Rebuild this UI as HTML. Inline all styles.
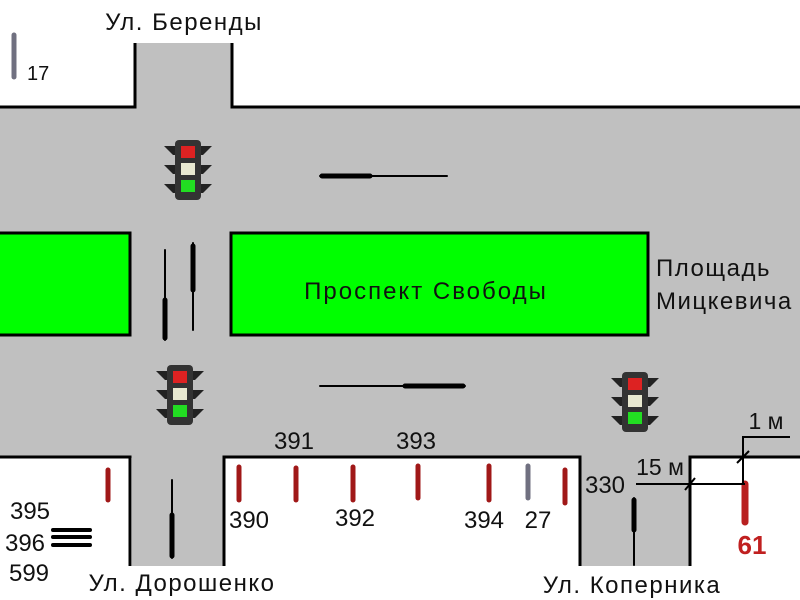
<!DOCTYPE html>
<html><head><meta charset="utf-8"><style>
html,body{margin:0;padding:0;background:#fff;width:800px;height:600px;overflow:hidden}
svg{display:block}
text{font-family:"Liberation Sans",sans-serif;fill:#111}
</style></head><body>
<svg width="800" height="600" viewBox="0 0 800 600">
<defs>
<g id="tl">
<path d="M-24,-24 h48 l-9,9 h-30z M-24,-5 h48 l-9,9 h-30z M-24,14 h48 l-9,9 h-30z" fill="#222"/>
<rect x="-13" y="-30" width="26" height="60" rx="4" fill="#333"/>
<rect x="-7" y="-24" width="14" height="12" fill="#d22"/>
<rect x="-7" y="-7" width="14" height="12" fill="#e8e8d0"/>
<rect x="-7" y="10" width="14" height="12" fill="#2d2"/>
</g>
</defs>
<rect x="0" y="108" width="800" height="350" fill="#c0c0c0"/>
<rect x="136" y="43" width="96" height="70" fill="#c0c0c0"/>
<rect x="132" y="455" width="91" height="111" fill="#c0c0c0"/>
<rect x="581" y="455" width="109" height="111" fill="#c0c0c0"/>
<g stroke="#000" stroke-width="3" fill="none">
<polyline points="0,107 135,107 135,43"/>
<polyline points="232,43 232,107 800,107"/>
<polyline points="0,457 130,457 130,566"/>
<polyline points="224,566 224,457 580,457 580,566"/>
<polyline points="690,566 690,457 800,457"/>
</g>
<rect x="-3" y="233" width="133" height="102" fill="#00ff00" stroke="#000" stroke-width="3"/>
<rect x="231" y="233" width="417" height="102" fill="#00ff00" stroke="#000" stroke-width="3"/>
<text x="426" y="299" font-size="24" letter-spacing="2" text-anchor="middle">Проспект Свободы</text>
<text x="656" y="276" font-size="24" letter-spacing="1.5">Площадь</text>
<text x="656" y="309" font-size="24" letter-spacing="1.5">Мицкевича</text>
<use href="#tl" x="188" y="170"/>
<use href="#tl" x="180" y="395"/>
<use href="#tl" x="635" y="402"/>
<g stroke="#000" stroke-linecap="round">
<line x1="320" y1="176" x2="447" y2="176" stroke-width="2"/>
<line x1="322" y1="176" x2="370" y2="176" stroke-width="5"/>
<line x1="320" y1="386" x2="465" y2="386" stroke-width="2"/>
<line x1="405" y1="386" x2="463" y2="386" stroke-width="5"/>
<line x1="165" y1="250" x2="165" y2="340" stroke-width="2"/>
<line x1="165" y1="300" x2="165" y2="338" stroke-width="5"/>
<line x1="193" y1="243" x2="193" y2="330" stroke-width="2"/>
<line x1="193" y1="246" x2="193" y2="290" stroke-width="5"/>
<line x1="172" y1="480" x2="172" y2="558" stroke-width="2"/>
<line x1="172" y1="515" x2="172" y2="556" stroke-width="5"/>
<line x1="634" y1="498" x2="634" y2="565" stroke-width="2"/>
<line x1="634" y1="500" x2="634" y2="530" stroke-width="5"/>
<line x1="53" y1="530" x2="90" y2="530" stroke-width="4"/>
<line x1="53" y1="537" x2="90" y2="537" stroke-width="4"/>
<line x1="53" y1="545" x2="90" y2="545" stroke-width="4"/>
</g>
<g stroke="#a01818" stroke-width="5" stroke-linecap="round">
<line x1="108" y1="470" x2="108" y2="500"/>
<line x1="239" y1="467" x2="239" y2="500"/>
<line x1="296" y1="468" x2="296" y2="500"/>
<line x1="353" y1="467" x2="353" y2="500"/>
<line x1="418" y1="466" x2="418" y2="498"/>
<line x1="489" y1="466" x2="489" y2="500"/>
<line x1="565" y1="470" x2="565" y2="503"/>
<line x1="745" y1="484" x2="745" y2="522" stroke-width="7" stroke="#b82020"/>
</g>
<g stroke="#707080" stroke-width="5" stroke-linecap="round">
<line x1="528" y1="466" x2="528" y2="498"/>
<line x1="14" y1="35" x2="14" y2="77"/>
</g>
<g stroke="#000" stroke-width="2" fill="none">
<line x1="636" y1="484" x2="745" y2="484"/>
<polyline points="743,484 743,437 790,437"/>
<line x1="685" y1="490" x2="695" y2="478"/>
<line x1="737" y1="463" x2="749" y2="451"/>
</g>
<text x="766" y="429" font-size="23" text-anchor="middle">1 м</text>
<text x="660" y="475" font-size="23" text-anchor="middle">15 м</text>
<g font-size="24">
<text x="184" y="30" text-anchor="middle" letter-spacing="1.5">Ул. Беренды</text>
<text x="27" y="80" font-size="20">17</text>
<text x="294" y="449" text-anchor="middle">391</text>
<text x="416" y="449" text-anchor="middle">393</text>
<text x="249" y="528" text-anchor="middle">390</text>
<text x="355" y="526" text-anchor="middle">392</text>
<text x="484" y="528" text-anchor="middle">394</text>
<text x="538" y="528" text-anchor="middle">27</text>
<text x="605" y="493" text-anchor="middle">330</text>
<text x="30" y="519" text-anchor="middle">395</text>
<text x="25" y="551" text-anchor="middle">396</text>
<text x="29" y="581" text-anchor="middle">599</text>
<text x="182" y="591" text-anchor="middle" letter-spacing="1.5">Ул. Дорошенко</text>
<text x="632" y="593" text-anchor="middle" letter-spacing="1.5">Ул. Коперника</text>
<text x="752" y="554" text-anchor="middle" font-weight="bold" font-size="26" style="fill:#c02020">61</text>
</g>
</svg>
</body></html>
